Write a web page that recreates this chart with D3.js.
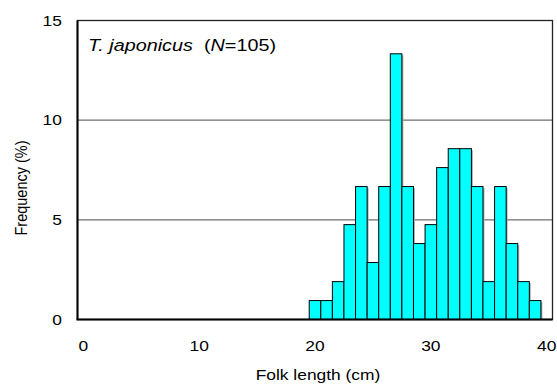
<!DOCTYPE html>
<html>
<head>
<meta charset="utf-8">
<script src="https://cdn.jsdelivr.net/npm/d3@7/dist/d3.min.js"></script>
<style>
  html, body { margin: 0; padding: 0; background: #fff; }
  text { font-family: Arial, "Liberation Sans", sans-serif; fill: #000; }
</style>
</head>
<body>
<svg id="chart" width="557" height="385"></svg>
<script>
// Data: fork length classes (cm) and frequency (%)
const lengthClasses = [20,21,22,23,24,25,26,27,28,29,30,31,32,33,34,35,36,37,38,39];
const frequency = [0.95,0.95,1.90,4.76,6.67,2.86,6.67,13.33,6.67,3.81,4.76,7.62,8.57,8.57,6.67,1.90,6.67,3.81,1.90,0.95];
const xCategories = d3.range(0, 41);          // category axis 0..40
const xTickLabels = [0, 10, 20, 30, 40];
const yTicks = [0, 5, 10, 15];
const yGrid = [5, 10];
const titleSpecies = "T. japonicus";
const titleN = "105";
const xLabel = "Folk length (cm)";
const yLabel = "Frequency (%)";

(function () {
const svg = d3.select("#chart");
const pL = 77.5, pR = 552.5, pT = 20.5, pB = 319.5;
const fs = 14.5;      // font size
const sx = 1.2;       // horizontal stretch of the original picture

const x = d3.scaleBand().domain(xCategories).range([pL, pR]).padding(0);
const y = d3.scaleLinear().domain([0, 15]).range([pB, pT]);

// gridlines
svg.append("g").selectAll("line").data(yGrid).join("line")
  .attr("x1", pL).attr("x2", pR)
  .attr("y1", d => y(d)).attr("y2", d => y(d))
  .attr("stroke", "#6e6e6e").attr("stroke-width", 1.2);

const data = lengthClasses.map((c, i) => ({c, v: frequency[i]}));

// shadows
svg.append("g").selectAll("rect").data(data).join("rect")
  .attr("x", d => x(d.c) + 1.5)
  .attr("y", d => y(d.v) + 1.5)
  .attr("width", x.bandwidth())
  .attr("height", d => pB - y(d.v) - 1.5)
  .attr("fill", "#b0b0b0");

// bars
svg.append("g").selectAll("rect").data(data).join("rect")
  .attr("x", d => x(d.c))
  .attr("y", d => y(d.v))
  .attr("width", x.bandwidth())
  .attr("height", d => pB - y(d.v))
  .attr("fill", "#00FFFF")
  .attr("stroke", "#000").attr("stroke-width", 1);

// frame
svg.append("rect")
  .attr("x", pL).attr("y", pT)
  .attr("width", pR - pL).attr("height", pB - pT)
  .attr("fill", "none").attr("stroke", "#222").attr("stroke-width", 1.3);
svg.append("line").attr("x1", pL).attr("x2", pL).attr("y1", pT).attr("y2", pB)
  .attr("stroke", "#000").attr("stroke-width", 2);
svg.append("line").attr("x1", pL - 1).attr("x2", pR).attr("y1", pB).attr("y2", pB)
  .attr("stroke", "#000").attr("stroke-width", 2);

// y axis labels
const yAxis = d3.axisLeft(y).tickValues(yTicks).tickSize(0).tickPadding(13).tickFormat(d3.format("d"));
const gy = svg.append("g").attr("transform", `translate(${pL},0)`).call(yAxis);
gy.select(".domain").remove();
gy.selectAll("text").style("font-size", fs + "px")
  .style("font-family", "Arial, 'Liberation Sans', sans-serif")
  .attr("transform", `scale(${sx},1)`);

// x axis labels
const xAxis = d3.axisBottom(x).tickValues(xTickLabels).tickSize(0).tickPadding(21);
const gx = svg.append("g").attr("transform", `translate(0,${pB})`).call(xAxis);
gx.select(".domain").remove();
gx.selectAll("text").style("font-size", fs + "px")
  .style("font-family", "Arial, 'Liberation Sans', sans-serif")
  .attr("transform", `scale(${sx},1)`);

// axis titles
svg.append("text")
  .attr("transform", `translate(${(pL + pR) / 2 + 3},380) scale(${sx},1)`)
  .attr("text-anchor", "middle").style("font-size", fs + "px").text(xLabel);
svg.append("text")
  .attr("transform", `translate(27,188) scale(${sx},1) rotate(-90)`)
  .attr("text-anchor", "middle").style("font-size", fs + "px").text(yLabel);

// inset title
const t = svg.append("text")
  .attr("transform", `translate(88,51) scale(${sx},1)`)
  .style("font-size", "16.5px");
t.append("tspan").style("font-style", "italic").text(titleSpecies);
t.append("tspan").text("\u00a0 (");
t.append("tspan").style("font-style", "italic").text("N");
t.append("tspan").text("=" + titleN + ")");
})();
</script>
</body>
</html>
